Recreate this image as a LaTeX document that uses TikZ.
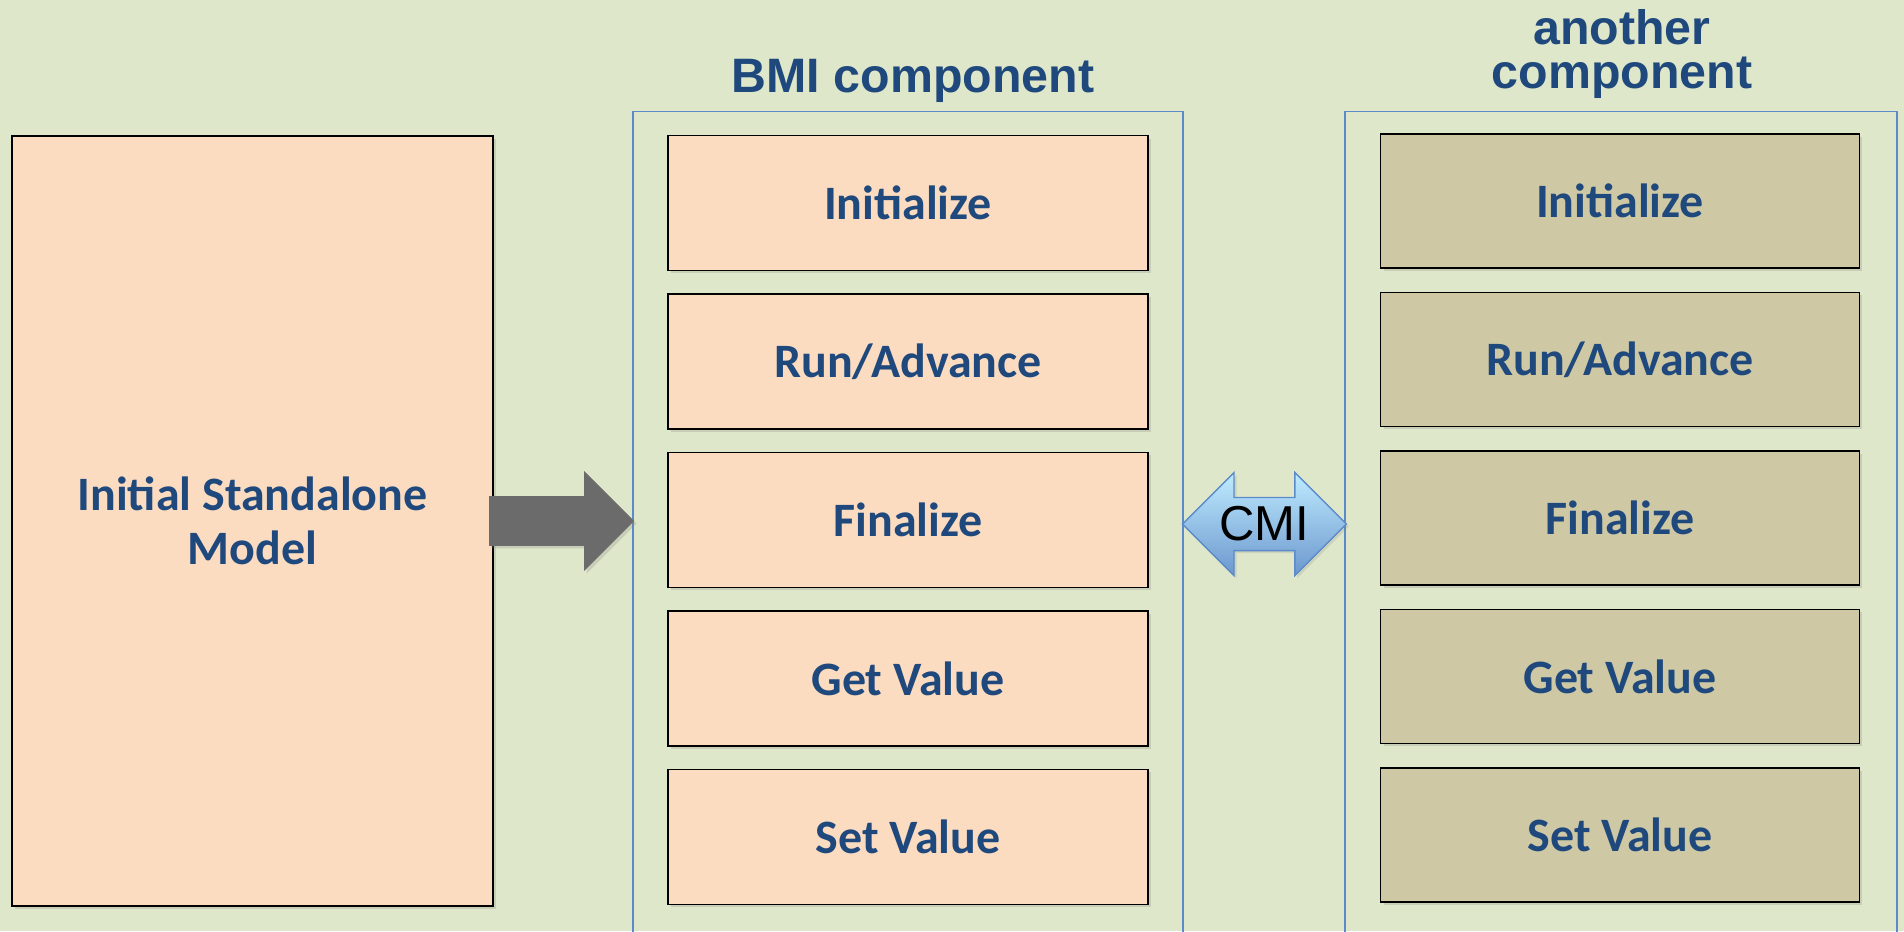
\documentclass[tikz,border=0pt]{standalone}
\usepackage{fontspec}
\setmainfont{Carlito}
\newfontfamily\headfont{Liberation Sans}
\newfontfamily\labelfont{Liberation Sans}
\usetikzlibrary{positioning, shapes.arrows, shadows}

\definecolor{backdrop}{HTML}{DFE7CA}
\definecolor{peach}{HTML}{FCDCC1}
\definecolor{tan}{HTML}{CEC8A5}
\definecolor{inkblue}{HTML}{1F497D}
\definecolor{frameblue}{HTML}{5B8BC9}
\definecolor{arrowgray}{HTML}{6B6B6B}

\tikzstyle{stepbase} = [
    rectangle,
    minimum width=9.6cm,
    minimum height=2.7cm,
    text centered,
    align=center,
    draw=black,
    line width=0.9pt,
    text=inkblue,
    font=\fontsize{27.3pt}{30.8pt}\selectfont\bfseries,
    drop shadow={shadow xshift=0.06cm, shadow yshift=-0.06cm, opacity=0.25}
]
\tikzstyle{peachbox} = [stepbase, fill=peach]
\tikzstyle{tanbox} = [stepbase, fill=tan, minimum width=9.58cm, minimum height=2.68cm]
\tikzstyle{frame} = [
    rectangle,
    draw=frameblue,
    line width=0.7pt,
    minimum height=16.5cm,
    anchor=north
]
\tikzstyle{heading} = [
    text=inkblue,
    inner sep=0pt,
    font=\headfont\fontsize{27.5pt}{25pt}\selectfont\bfseries
]
\tikzstyle{fatarrow} = [
    single arrow,
    fill=arrowgray,
    inner xsep=0pt,
    inner ysep=0.49cm,
    minimum height=2.9cm,
    single arrow head extend=0.5cm,
    drop shadow={shadow xshift=0.05cm, shadow yshift=-0.05cm, opacity=0.25}
]
\tikzstyle{twinarrow} = [
    double arrow,
    draw=frameblue,
    line width=0.8pt,
    top color=blue!30!cyan!25!white,
    bottom color=frameblue!90!white,
    inner xsep=0pt,
    inner ysep=0.17cm,
    minimum height=3.28cm,
    double arrow head extend=0.5cm,
    font=\labelfont\fontsize{27.9pt}{30pt}\selectfont,
    drop shadow={shadow xshift=0.05cm, shadow yshift=-0.05cm, opacity=0.2}
]

\begin{document}
\begin{tikzpicture}[x=0.02cm, y=-0.02cm, node distance=3.17cm]
    \fill[backdrop] (0,0) rectangle (1904,931);
    \useasboundingbox (0,0) rectangle (1904,931);

    % containers and their titles
    \node (bmi) [frame, minimum width=11cm] at (908,111) {};
    \node (other) [frame, minimum width=11.04cm] at (1621,111) {};
    \node (bmititle) [heading, anchor=base] at (913,92) {BMI component};
    \node (othertitle) [heading, align=center, anchor=south] at (1622,99) {another\\component};

    % the model before wrapping
    \node (model) [peachbox, minimum width=9.62cm, minimum height=15.4cm] at (252.5,521) {Initial Standalone\\Model};

    % BMI functions
    \node (binit) [peachbox] at (908,203) {Initialize};
    \node (brun) [peachbox, below of=binit] {Run/Advance};
    \node (bfinal) [peachbox, below of=brun] {Finalize};
    \node (bget) [peachbox, below of=bfinal] {Get Value};
    \node (bset) [peachbox, below of=bget] {Set Value};

    % the other component
    \node (ainit) [tanbox] at (1620,201) {Initialize};
    \node (arun) [tanbox, below of=ainit] {Run/Advance};
    \node (afinal) [tanbox, below of=arun] {Finalize};
    \node (aget) [tanbox, below of=afinal] {Get Value};
    \node (aset) [tanbox, below of=aget] {Set Value};

    \node (wrap) [fatarrow, right=-0.1cm of model] {};
    \node (cmi) [twinarrow, left=-0.06cm of other] {CMI};
\end{tikzpicture}
\end{document}
